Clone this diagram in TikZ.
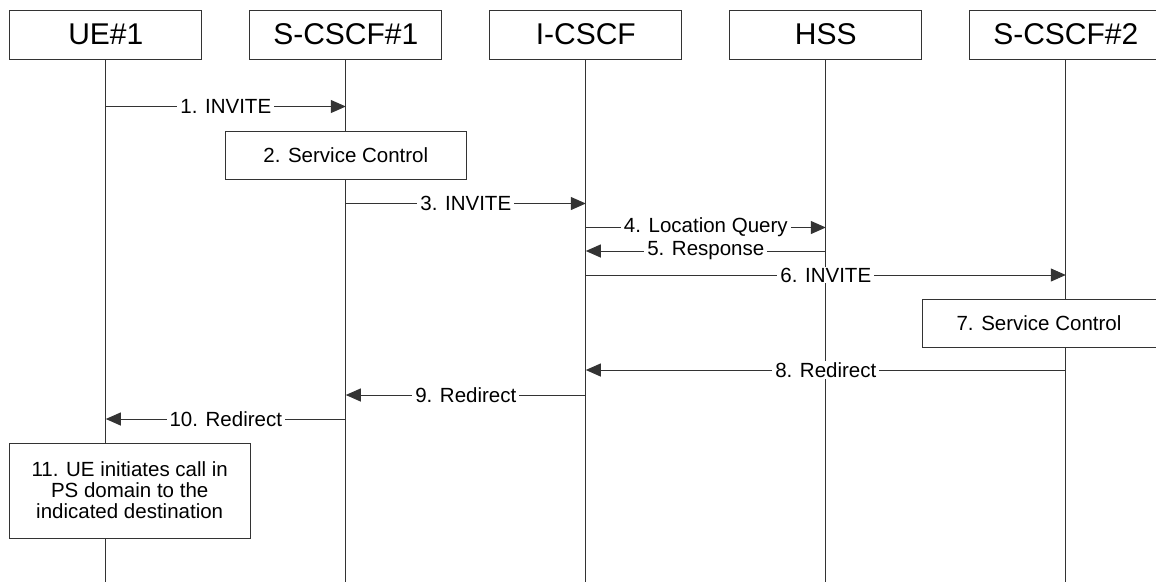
\documentclass[tikz,border=0pt]{standalone}
\usepackage{fontspec}
\setmainfont{Liberation Sans}
\usetikzlibrary{arrows.meta, positioning}
\definecolor{lngray}{HTML}{333333}
\tikzset{
  entity/.style={rectangle, draw=lngray, line width=1pt, fill=white, outer sep=0pt,
    minimum width=192pt, minimum height=49pt, font=\fontsize{30}{34}\selectfont},
  action/.style={rectangle, draw=lngray, line width=1pt, fill=white, align=center,
    minimum height=48pt, font=\fontsize{20.5}{21}\selectfont},
  life/.style={line width=1pt, draw=lngray},
  msg/.style={-{Triangle[length=15pt, width=13pt]}, line width=1pt, draw=lngray},
  lbl/.style={fill=white, inner xsep=3pt, inner ysep=1pt, font=\fontsize{20.5}{22}\selectfont},
}

\begin{document}
\begin{tikzpicture}[x=1pt, y=1pt, node distance=48pt]
  \useasboundingbox (0,0) rectangle (1156,-582);
  % entities
  \node[entity] (ue) at (105.8,-34.5) {UE\#1};
  \node[entity, right=of ue] (scscfa) {S-CSCF\#1};
  \node[entity, right=of scscfa] (icscf) {I-CSCF};
  \node[entity, right=of icscf] (hss) {HSS};
  \node[entity, right=of hss] (scscfb) {S-CSCF\#2};

  % lifelines
  \coordinate (bot) at (0,-582);
  \foreach \n in {ue,scscfa,icscf,hss,scscfb}
    \draw[life] (\n.south) -- (\n |- bot);

  % actions
  \node[action, minimum width=241pt] (svca) at (scscfa |- 0,-155) {2. Service Control};
  \node[action, minimum width=234pt] (svcb) at (1039,-323) {7. Service Control};
  \node[action, minimum width=241pt, minimum height=95pt] (call) at (129.7,-490.5)
    {11. UE initiates call in\\PS domain to the\\indicated destination};

  % messages
  \draw[msg] (ue |- 0,-106.5) -- node[lbl] {1. INVITE} (scscfa |- 0,-106.5);
  \draw[msg] (scscfa |- 0,-203.5) -- node[lbl] {3. INVITE} (icscf |- 0,-203.5);
  \draw[msg] (icscf |- 0,-227.5) -- node[lbl] {4. Location Query} (hss |- 0,-227.5);
  \draw[msg] (hss |- 0,-251) -- node[lbl] {5. Response} (icscf |- 0,-251);
  \draw[msg] (icscf |- 0,-275) -- node[lbl] {6. INVITE} (scscfb |- 0,-275);
  \draw[msg] (scscfb |- 0,-370) -- node[lbl] {8. Redirect} (icscf |- 0,-370);
  \draw[msg] (icscf |- 0,-395) -- node[lbl] {9. Redirect} (scscfa |- 0,-395);
  \draw[msg] (scscfa |- 0,-419) -- node[lbl] {10. Redirect} (ue |- 0,-419);
\end{tikzpicture}
\end{document}
